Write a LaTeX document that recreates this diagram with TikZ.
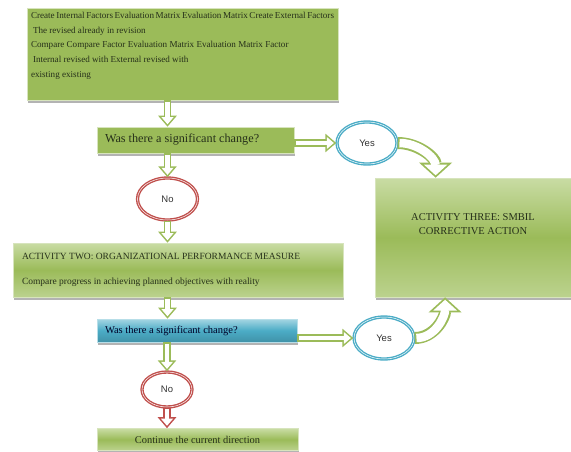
\documentclass[tikz,border=0pt]{standalone}
\usepackage{fontspec}
\setmainfont{Liberation Serif}
\newfontfamily\fasans{Liberation Sans}
\usetikzlibrary{shapes.geometric,arrows.meta,shadows}
\definecolor{fagreen}{HTML}{9BBB59}
\definecolor{falight}{HTML}{C9DCA4}
\definecolor{faedge}{HTML}{D7E4BD}
\definecolor{fablue}{HTML}{4BACC6}
\definecolor{fared}{HTML}{C0504D}
\definecolor{fatext}{HTML}{26301A}
\tikzset{
  fabox/.style={rectangle, draw=faedge, line width=0.6pt, inner sep=0pt, text=fatext,
    drop shadow={shadow xshift=1pt, shadow yshift=-2.5pt, fill=black!50, opacity=0.6}},
  faflat/.style={fabox, fill=fagreen},
  fashaded/.style={fabox, top color=falight, bottom color=falight!70!fagreen, middle color=fagreen},
  fabluebox/.style={fabox, draw=fablue!40, top color=fablue!50, bottom color=fablue!85!black, middle color=fablue, text=black!85!blue},
  faanswer/.style={ellipse, fill=white, line width=1.4pt, double=white, double distance=0.5pt,
    inner sep=0pt, font=\fasans\fontsize{9.5}{11}\selectfont, text=black!80},
  fashaft/.style={line width=7.5pt},
  fashaftin/.style={white, line width=4.5pt, shorten <=1.5pt, shorten >=2.4pt},
}
\newcommand{\faanswernode}[4] {\node at (#1) (#2) [faanswer, draw=#3, minimum width=60pt, minimum height=42pt] {#4};}
\newcommand{\faarrow}[2][fagreen] {\draw [fashaft, color=#1, -{Triangle[length=11pt, width=18pt]}] #2; \draw [fashaftin, -{Triangle[length=7.1pt, width=11.6pt]}] #2;}
\newcommand{\fabigarrow}[1] {\draw [line width=12pt, color=fagreen, -{Triangle[length=15pt, width=32pt]}] #1; \draw [white, line width=8.5pt, shorten <=1.75pt, shorten >=2.4pt, -{Triangle[length=10.8pt, width=23pt]}] #1;}

\begin{document}
\begin{tikzpicture}[x=1pt, y=-1pt]
\useasboundingbox (0,0) rectangle (571,451);

% boxes
\node at (182.5,54) (top) [faflat, minimum width=311pt, minimum height=92pt]
  {\parbox[t][84pt][t]{303pt}{\fontsize{9.1}{14.7}\selectfont
  Create Internal Factors Evaluation Matrix Evaluation Matrix Create External Factors\\
  \hspace*{2pt}The revised already in revision\\
  Compare Compare Factor Evaluation Matrix Evaluation Matrix Factor\\
  \hspace*{2pt}Internal revised with External revised with\\
  existing existing}};
\node at (195.5,140) (ask1) [faflat, minimum width=197pt, minimum height=26pt]
  {\parbox{181pt}{\fontsize{12.2}{14}\selectfont Was there a significant change?}};
\node at (473,237.5) (three) [fashaded, minimum width=196pt, minimum height=119pt]
  {\parbox[c][113pt][t]{190pt}{\centering\vspace*{33pt}\fontsize{10.5}{14}\selectfont
  ACTIVITY THREE: SMBIL\\CORRECTIVE ACTION}};
\node at (178,270) (two) [fashaded, minimum width=330pt, minimum height=54pt]
  {\parbox{312pt}{\fontsize{9.5}{25}\selectfont
  ACTIVITY TWO: ORGANIZATIONAL PERFORMANCE MEASURE\\
  Compare progress in achieving planned objectives with reality}};
\node at (197,330.5) (ask2) [fabluebox, minimum width=200pt, minimum height=23pt]
  {\parbox{184pt}{\fontsize{10.5}{12}\selectfont Was there a significant change?}};
\node at (197.5,439.5) (final) [fashaded, minimum width=201pt, minimum height=22pt]
  {\fontsize{10.4}{12}\selectfont Continue the current direction};

% answers
\faanswernode {367,143}{yes1}{fablue}{Yes};
\faanswernode {167.5,199}{no1}{fared}{No};
\faanswernode {384,338}{yes2}{fablue}{Yes};
\node at (167,389.5) (no2) [faanswer, draw=fared, minimum width=50pt, minimum height=35pt] {No};

% connectors
\faarrow{(top.south -| no1) -- (ask1.north -| no1)};
\faarrow{(ask1.east |- yes1.west) -- (yes1.west)};
\faarrow{(ask1.south -| no1) -- (no1.north)};
\faarrow{(no1.south) -- (two.north -| no1)};
\faarrow{(two.south -| no1) -- (ask2.north -| no1)};
\faarrow{(ask2.east |- yes2.west) -- (yes2.west)};
\faarrow{(ask2.south -| no2) -- (no2.north)};
\faarrow[fared]{(no2.south) -- (final.north -| no2)};
\fabigarrow{(yes1.east) to[out=0, in=90] (three.122)};
\fabigarrow{(yes2.east) to[out=0, in=-90] (three.-115)};
\end{tikzpicture}
\end{document}
